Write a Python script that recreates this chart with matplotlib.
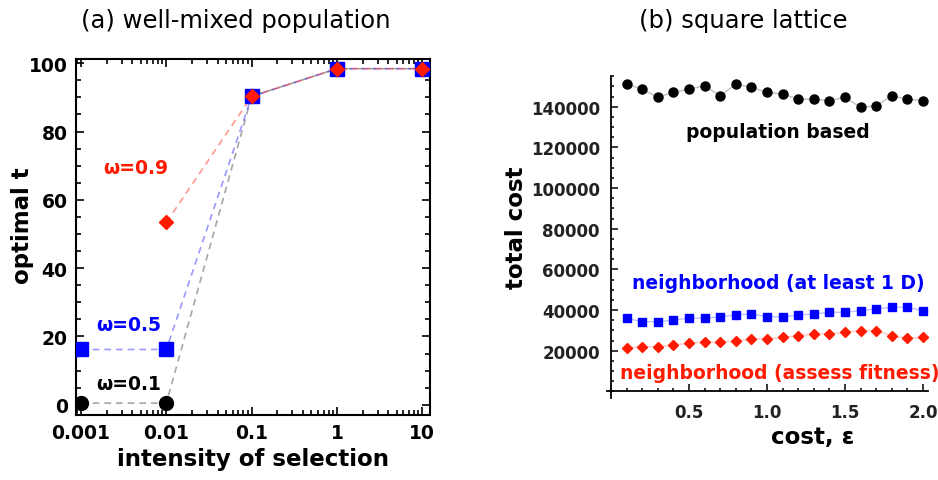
import numpy as np
import matplotlib
matplotlib.use("Agg")
import matplotlib.pyplot as plt
from matplotlib.ticker import MultipleLocator, LogLocator, NullFormatter, FixedLocator

# (a) well-mixed population
intensity = [0.001, 0.01, 0.1, 1, 10]
t_w01 = [0.5, 0.5, 90.3, 98.4, 98.4]
t_w05 = [16.2, 16.2, 90.3, 98.4, 98.4]
int_w09 = [0.01, 0.1, 1, 10]
t_w09 = [53.4, 90.3, 98.4, 98.4]

# (b) square lattice
eps = [0.1, 0.2, 0.3, 0.4, 0.5, 0.6, 0.7, 0.8, 0.9, 1.0,
       1.1, 1.2, 1.3, 1.4, 1.5, 1.6, 1.7, 1.8, 1.9, 2.0]
pop_based = [151200, 148700, 144700, 147100, 148700, 150400, 145400, 151200, 149600, 147100,
             146300, 143800, 143800, 143000, 144700, 139700, 140500, 145400, 143800, 143000]
neigh_1d = [36000, 34300, 34300, 35100, 36000, 36000, 36700, 37600, 38100, 36700,
            36700, 37600, 38100, 38900, 38900, 39700, 40500, 41400, 41400, 39700]
neigh_fit = [21200, 22000, 22000, 22800, 23700, 24200, 24200, 24900, 25800, 25800,
             26600, 27400, 28200, 28200, 29100, 29900, 29900, 27400, 26100, 26600]

RED = "#ff1a00"
BLUE = "#0000ff"

fig = plt.figure(figsize=(9.38, 4.81), dpi=100)

# ---- panel (a)
ax = fig.add_axes([0.081, 0.135, 0.377, 0.740])
ax.plot(intensity, t_w01, "--", color="gray", lw=1.2, alpha=0.7, dashes=(4, 3), zorder=1)
ax.plot(intensity, t_w05, "--", color=BLUE, lw=1.2, alpha=0.4, dashes=(4, 3), zorder=1)
ax.plot(int_w09, t_w09, "--", color=RED, lw=1.2, alpha=0.45, dashes=(4, 3), zorder=1)
ax.plot(intensity, t_w01, "o", color="black", ms=10, zorder=3)
ax.plot(intensity, t_w05, "s", color=BLUE, ms=10, zorder=4)
ax.plot(int_w09, t_w09, "D", color=RED, ms=7.5, zorder=5)
ax.set_xscale("log")
ax.set_xlim(10 ** -3.059, 10 ** 1.085)
ax.set_ylim(-3.0, 101.2)
ax.set_xticks(intensity)
ax.set_xticklabels(["0.001", "0.01", "0.1", "1", "10"])
ax.xaxis.set_minor_locator(LogLocator(base=10, subs=np.arange(2, 10)))
ax.xaxis.set_minor_formatter(NullFormatter())
ax.yaxis.set_major_locator(MultipleLocator(20))
ax.yaxis.set_minor_locator(MultipleLocator(5))
ax.tick_params(which="both", direction="in", top=True, right=True, width=1.2)
ax.tick_params(which="major", length=6, labelsize=13.5, pad=6)
ax.tick_params(which="minor", length=3.5)
for lab in ax.get_xticklabels() + ax.get_yticklabels():
    lab.set_fontweight("bold")
for s in ax.spines.values():
    s.set_linewidth(1.5)
ax.set_xlabel("intensity of selection", fontsize=16.5, fontweight="bold", labelpad=3)
ax.set_ylabel("optimal t", fontsize=16.5, fontweight="bold")
ax.yaxis.set_label_coords(-0.118, 0.535)
ax.text(0.0044, 69.6, "ω=0.9", color=RED, fontsize=13.5, fontweight="bold", ha="center", va="center")
ax.text(0.00365, 23.6, "ω=0.5", color=BLUE, fontsize=13.5, fontweight="bold", ha="center", va="center")
ax.text(0.00365, 6.1, "ω=0.1", color="black", fontsize=13.5, fontweight="bold", ha="center", va="center")
fig.text(0.251, 0.957, "(a) well-mixed population", fontsize=17.5, ha="center", va="center")

# ---- panel (b)
bx = fig.add_axes([0.647, 0.1715, 0.342, 0.669])
bx.plot(eps, pop_based, "-", color="gray", lw=1, alpha=0.5, zorder=1)
bx.plot(eps, neigh_1d, "-", color=BLUE, lw=1, alpha=0.25, zorder=1)
bx.plot(eps, neigh_fit, "-", color=RED, lw=1, alpha=0.25, zorder=1)
bx.plot(eps, pop_based, "o", color="black", ms=6.5, zorder=3)
bx.plot(eps, neigh_1d, "s", color=BLUE, ms=5.5, zorder=3)
bx.plot(eps, neigh_fit, "D", color=RED, ms=5.5, zorder=3)
bx.set_xlim(-0.026, 2.03)
bx.set_ylim(-3000, 155300)
for side in ["top", "right"]:
    bx.spines[side].set_visible(False)
bx.spines["left"].set_position(("data", 0))
bx.spines["bottom"].set_position(("data", 0))
bx.spines["left"].set_bounds(-3000, 155300)
bx.xaxis.set_major_locator(FixedLocator([0.5, 1.0, 1.5, 2.0]))
bx.xaxis.set_minor_locator(MultipleLocator(0.1))
bx.yaxis.set_major_locator(FixedLocator([20000, 40000, 60000, 80000, 100000, 120000, 140000]))
bx.yaxis.set_minor_locator(MultipleLocator(5000))
bx.tick_params(which="both", direction="in", width=1.1)
bx.tick_params(which="major", length=5, labelsize=12, pad=8)
bx.tick_params(which="minor", length=2.5)
for lab in bx.get_xticklabels() + bx.get_yticklabels():
    lab.set_fontweight("bold")
    lab.set_color("#222222")
for s in ["left", "bottom"]:
    bx.spines[s].set_linewidth(1.3)
bx.set_xlabel("cost, ε", fontsize=16.5, fontweight="bold")
bx.set_ylabel("total cost", fontsize=16.5, fontweight="bold")
bx.xaxis.set_label_coords(0.64, -0.085)
bx.yaxis.set_label_coords(-0.245, 0.53)
bx.text(1.07, 128000, "population based", fontsize=13.5, fontweight="bold", ha="center", va="center")
bx.text(1.07, 53500, "neighborhood (at least 1 D)", color=BLUE, fontsize=13.5, fontweight="bold",
        ha="center", va="center")
bx.text(1.08, 9500, "neighborhood (assess fitness)", color=RED, fontsize=13.5, fontweight="bold",
        ha="center", va="center")
fig.text(0.792, 0.957, "(b) square lattice", fontsize=17.5, ha="center", va="center")

fig.savefig("out.png", dpi=100)
